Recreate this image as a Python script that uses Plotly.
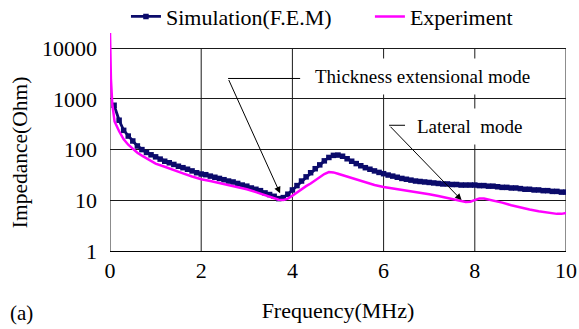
import math
import plotly.graph_objects as go

# ---------------- data ----------------
sim_freq = [0.09, 0.2, 0.3, 0.4, 0.5, 0.6, 0.7, 0.8, 0.9, 1.0,
            1.1, 1.2, 1.3, 1.4, 1.5, 1.6, 1.7, 1.8, 1.9, 2.0,
            2.1, 2.2, 2.3, 2.4, 2.5, 2.6, 2.7, 2.8, 2.9, 3.0,
            3.1, 3.2, 3.3, 3.4, 3.5, 3.6, 3.7, 3.8, 3.9, 4.0,
            4.1, 4.2, 4.3, 4.4, 4.5, 4.6, 4.7, 4.8, 4.9, 5.0,
            5.1, 5.2, 5.3, 5.4, 5.5, 5.6, 5.7, 5.8, 5.9, 6.0,
            6.1, 6.2, 6.3, 6.4, 6.5, 6.6, 6.7, 6.8, 6.9, 7.0,
            7.1, 7.2, 7.3, 7.4, 7.5, 7.6, 7.7, 7.8, 7.9, 8.0,
            8.1, 8.2, 8.3, 8.4, 8.5, 8.6, 8.7, 8.8, 8.9, 9.0,
            9.1, 9.2, 9.3, 9.4, 9.5, 9.6, 9.7, 9.8, 9.9, 10.0]
sim_imp = [750, 380, 240, 185, 148, 118, 100, 88, 79, 72,
           65, 59, 55, 51, 47, 44, 41, 38, 35, 33,
           32, 30, 28.5, 27, 25.5, 24, 23, 21.5, 20, 19,
           17.5, 16.5, 15.5, 14, 13, 12, 10.8, 11.3, 13.2, 16,
           19.5, 24, 29, 35, 42, 50, 60, 70, 77, 78,
           74, 66, 59, 53, 48, 44, 41, 38, 35.5, 33.5,
           31.5, 30, 28.5, 27, 26, 25, 24, 23.5, 23, 22.5,
           22, 21.5, 21, 21, 20.5, 20.5, 20, 20, 20, 20,
           19.5, 19.5, 19, 19, 18.5, 18, 18, 17.5, 17.5, 17,
           16.5, 16.5, 16, 16, 15.5, 15.5, 15, 15, 14.5, 14.5]

exp_freq = [0.0, 0.02, 0.05, 0.1, 0.2, 0.3, 0.4, 0.5, 0.6, 0.7, 0.8, 0.9, 1.0,
            1.2, 1.4, 1.6, 1.8, 2.0, 2.2, 2.4, 2.6, 2.8, 3.0, 3.2, 3.4, 3.6,
            3.7, 3.8, 3.9, 4.0, 4.1, 4.2, 4.3, 4.4, 4.5, 4.6, 4.7, 4.8, 4.9,
            5.0, 5.2, 5.4, 5.6, 5.8, 6.0, 6.2, 6.4, 6.6, 6.8, 7.0, 7.2, 7.4,
            7.6, 7.8, 7.9, 8.0, 8.1, 8.2, 8.4, 8.6, 8.8, 9.0, 9.2, 9.4, 9.6,
            9.8, 9.9, 10.0]
exp_imp = [20000, 2500, 800, 360, 230, 160, 125, 104, 87, 76, 67, 59, 53,
           46, 39, 34, 29.5, 26, 24, 22, 20, 18, 16.5, 14.5, 12.5, 11,
           10.3, 10.1, 10.8, 12.3, 14.3, 16.5, 19, 21.5, 25, 29, 33, 36, 35.5,
           33.5, 29.5, 25.5, 22.5, 20, 18.3, 17.2, 16.3, 15, 14, 13.2, 12.2, 11.2,
           10.2, 9.3, 9.4, 10.2, 10.9, 10.9, 10, 9, 8, 7.2, 6.6, 6.1, 5.7,
           5.4, 5.4, 5.6]

x_ticks = [0, 2, 4, 6, 8, 10]
y_ticks = [1, 10, 100, 1000, 10000]
y_ticktext = ["1", "10", "100", "1000", "10000"]

# annotation anchor points (MHz, Ohm)
te_label = (6.86, 2800)
te_corner = (2.59, 2530)
te_line_end = (4.17, 2530)
te_tip = (3.73, 13.7)

lat_label = (7.89, 290)
lat_corner = (6.12, 302)
lat_line_end = (6.47, 302)
lat_tip = (7.71, 10.1)

FONT = "Liberation Serif"
NAVY = "#0b0b6b"
MAGENTA = "#ff00ff"
Y_TOP = 4.32  # log10 of upper range (room for the first experiment point)


def ypaper(v):
    return math.log10(v) / Y_TOP


fig = go.Figure()
fig.add_trace(go.Scatter(
    x=sim_freq, y=sim_imp, mode="lines+markers", name="Simulation(F.E.M)",
    line=dict(color=NAVY, width=2.8),
    marker=dict(symbol="square", size=5.5, color=NAVY),
    legend="legend",
))
fig.add_trace(go.Scatter(
    x=exp_freq, y=exp_imp, mode="lines", name="Experiment",
    line=dict(color=MAGENTA, width=2.5),
    legend="legend2",
))

shapes = []
for xv in x_ticks:
    shapes.append(dict(type="line", xref="x", yref="paper",
                       x0=xv, x1=xv, y0=0, y1=ypaper(y_ticks[-1]),
                       line=dict(color="#1a1a1a", width=1), layer="below"))
shapes.append(dict(type="line", xref="x", yref="paper",
                   x0=te_corner[0], x1=te_line_end[0],
                   y0=ypaper(te_corner[1]), y1=ypaper(te_line_end[1]),
                   line=dict(color="black", width=1)))
shapes.append(dict(type="line", xref="x", yref="paper",
                   x0=lat_corner[0], x1=lat_line_end[0],
                   y0=ypaper(lat_corner[1]), y1=ypaper(lat_line_end[1]),
                   line=dict(color="black", width=1)))

annotations = [
    dict(x=te_label[0], y=math.log10(te_label[1]), xref="x", yref="y",
         text="Thickness extensional mode", showarrow=False,
         font=dict(family=FONT, size=19, color="black"),
         bgcolor="white", borderpad=7),
    dict(x=lat_label[0], y=math.log10(lat_label[1]), xref="x", yref="y",
         text="Lateral\u00a0 mode", showarrow=False,
         font=dict(family=FONT, size=19, color="black"),
         bgcolor="white", borderpad=7),
    dict(x=te_tip[0], y=math.log10(te_tip[1]), xref="x", yref="y",
         ax=te_corner[0], ay=math.log10(te_corner[1]), axref="x", ayref="y",
         text="", showarrow=True, arrowhead=2, arrowsize=1.3, arrowwidth=1,
         arrowcolor="black", standoff=0),
    dict(x=lat_tip[0], y=math.log10(lat_tip[1]), xref="x", yref="y",
         ax=lat_corner[0], ay=math.log10(lat_corner[1]), axref="x", ayref="y",
         text="", showarrow=True, arrowhead=2, arrowsize=1.3, arrowwidth=1,
         arrowcolor="black", standoff=0),
    dict(x=-0.197, y=0.452, xref="paper", yref="paper", text="Impedance(Ohm)",
         textangle=-90, showarrow=False, xanchor="center", yanchor="middle",
         font=dict(family=FONT, size=21.5, color="black")),
    dict(x=-0.224, y=-0.283, xref="paper", yref="paper", text="(a)",
         showarrow=False, xanchor="left", yanchor="middle",
         font=dict(family=FONT, size=21, color="black")),
]

legend_common = dict(orientation="h", xanchor="left", yanchor="top",
                     font=dict(family=FONT, size=22, color="black"),
                     bgcolor="rgba(0,0,0,0)", borderwidth=0)

fig.update_layout(
    template="none",
    width=579, height=329,
    margin=dict(l=110, r=13, t=32, b=78, autoexpand=False),
    paper_bgcolor="white", plot_bgcolor="white",
    font=dict(family=FONT, size=22, color="black"),
    showlegend=True,
    legend=dict(x=0.035, y=1.166, **legend_common),
    legend2=dict(x=0.570, y=1.166, **legend_common),
    xaxis=dict(range=[0, 10], tickvals=x_ticks, showgrid=False, zeroline=False,
               showline=True, linecolor="black", linewidth=1, ticks="",
               automargin=False, ticklabelstandoff=0,
               tickfont=dict(family=FONT, size=22, color="black"),
               title=dict(text="Frequency(MHz)", standoff=20,
                          font=dict(family=FONT, size=22, color="black"))),
    yaxis=dict(type="log", range=[0, Y_TOP], tickvals=y_ticks, ticktext=y_ticktext,
               showgrid=True, gridcolor="#1a1a1a", gridwidth=1, zeroline=False,
               showline=False, ticks="", ticklabelstandoff=12, automargin=False,
               tickfont=dict(family=FONT, size=22, color="black")),
    shapes=shapes,
    annotations=annotations,
)

fig.write_html("out.html",
               config={"displayModeBar": False},
               post_script="document.body.style.margin='0px';document.body.style.padding='0px';")
